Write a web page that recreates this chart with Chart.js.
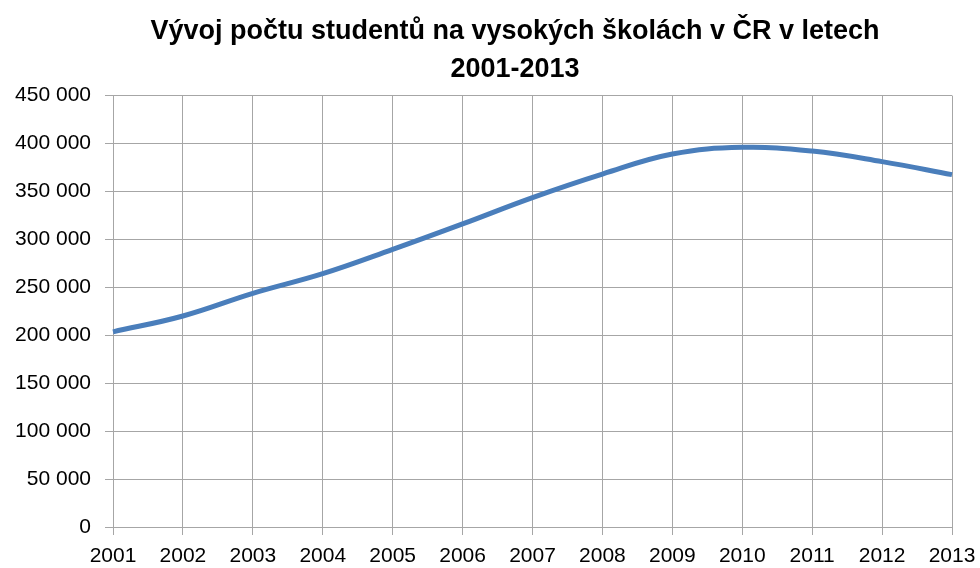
<!DOCTYPE html>
<html>
<head>
<meta charset="utf-8">
<script src="https://cdn.jsdelivr.net/npm/chart.js@4"></script>
<style>
  html, body { margin: 0; padding: 0; background: #fff; }
  #wrap { width: 980px; height: 568px; }
</style>
</head>
<body>
<div id="wrap"><canvas id="graf"></canvas></div>
<script>
// roky a počty studentů
const roky = ['2001', '2002', '2003', '2004', '2005', '2006', '2007',
              '2008', '2009', '2010', '2011', '2012', '2013'];
const studenti = [203600, 220100, 243700, 264200, 289500, 316100, 343600,
                  368100, 389000, 396000, 392100, 381100, 367600];
const nadpis = ['Vývoj počtu studentů na vysokých školách v ČR v letech', '2001-2013'];

const mrizka = '#a6a6a6';
const pismo = "'Liberation Sans', Arial, sans-serif";

// formát "450 000"
function tisice(v) {
    return String(v).replace(/\B(?=(\d{3})+(?!\d))/g, ' ');
}

// nadpis je v originále trochu posunutý doprava
const posunNadpisu = {
    id: 'posunNadpisu',
    afterLayout(chart) {
        if (chart.titleBlock) chart.titleBlock.left = 50;
    }
};

new Chart(document.getElementById('graf'), {
    type: 'line',
    data: {
        labels: roky,
        datasets: [{
            data: studenti,
            borderColor: '#4a7ebb',
            borderWidth: 5,
            pointRadius: 0,
            tension: 0.4,
            fill: false
        }]
    },
    plugins: [posunNadpisu],
    options: {
        responsive: true,
        maintainAspectRatio: false,
        animation: false,
        // ticks.padding se u osy x počítá dvakrát, proto záporný spodní okraj
        layout: { padding: { left: 0, right: 0, top: 0, bottom: -10 } },
        plugins: {
            legend: { display: false },
            tooltip: { enabled: false },
            title: {
                display: true,
                text: nadpis,
                color: '#000',
                font: { family: pismo, size: 27, weight: 'bold', lineHeight: 1.4 },
                padding: { top: 13, bottom: 7 }
            }
        },
        scales: {
            x: {
                offset: false,
                afterFit: (axis) => { axis.paddingRight = 28; },
                grid: { color: mrizka, lineWidth: 1, tickLength: 8, drawTicks: true },
                border: { color: mrizka },
                ticks: {
                    color: '#000',
                    font: { family: pismo, size: 21, lineHeight: 1.0 },
                    padding: 11,
                    maxRotation: 0,
                    autoSkip: false
                }
            },
            y: {
                min: 0,
                max: 450000,
                afterFit: (axis) => { axis.width = 113; },
                grid: { color: mrizka, lineWidth: 1, tickLength: 8 },
                border: { color: mrizka },
                ticks: {
                    stepSize: 50000,
                    color: '#000',
                    font: { family: pismo, size: 21 },
                    padding: 14,
                    callback: (v) => tisice(v)
                }
            }
        }
    }
});
</script>
</body>
</html>
